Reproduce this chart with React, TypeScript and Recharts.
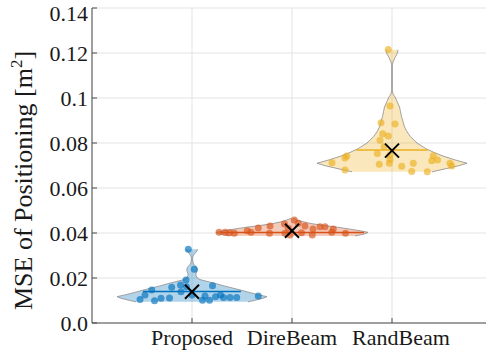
import React from 'react';
import {
  ComposedChart,
  Area,
  Scatter,
  XAxis,
  YAxis,
  CartesianGrid,
  ReferenceLine,
} from 'recharts';

const categories = ['Proposed', 'DireBeam', 'RandBeam'];
const colors = ['#0072BD', '#D95319', '#EDB120'];

const yTicks = [0, 0.02, 0.04, 0.06, 0.08, 0.1, 0.12, 0.14];
const yTickLabels = ['0.0', '0.02', '0.04', '0.06', '0.08', '0.1', '0.12', '0.14'];
const xTicks = [1, 2, 3];

// violin outlines: MSE level and half width (category units)
const proposedLevels = [0.0094, 0.0102, 0.011, 0.0117, 0.0125, 0.0135, 0.0145, 0.0155, 0.0165, 0.0175, 0.0185, 0.0193, 0.02, 0.021, 0.022, 0.023, 0.024, 0.025, 0.026, 0.027, 0.0285, 0.0298, 0.031, 0.032, 0.0328];
const proposedHalfWidths = [0.56, 0.64, 0.71, 0.75, 0.67, 0.58, 0.5, 0.41, 0.32, 0.24, 0.15, 0.08, 0.055, 0.04, 0.04, 0.05, 0.052, 0.04, 0.02, 0.01, 0.006, 0.01, 0.03, 0.05, 0.055];

const direLevels = [0.0387, 0.0393, 0.0398, 0.0403, 0.041, 0.0418, 0.0426, 0.0434, 0.0442, 0.045, 0.0458, 0.0465];
const direHalfWidths = [0.63, 0.7, 0.74, 0.76, 0.68, 0.57, 0.45, 0.31, 0.19, 0.11, 0.05, 0.01];

const randLevels = [0.0672, 0.0685, 0.0698, 0.071, 0.0725, 0.0742, 0.0758, 0.0776, 0.08, 0.0828, 0.085, 0.0872, 0.0895, 0.0917, 0.094, 0.096, 0.0985, 0.1005, 0.1018, 0.1035, 0.1145, 0.116, 0.118, 0.12, 0.1214];
const randHalfWidths = [0.4, 0.53, 0.66, 0.75, 0.63, 0.51, 0.42, 0.335, 0.25, 0.185, 0.15, 0.125, 0.11, 0.095, 0.085, 0.075, 0.05, 0.03, 0.01, 0.003, 0.003, 0.01, 0.03, 0.055, 0.06];

// individual runs: horizontal jitter and MSE
const proposedJitter = [-0.037, 0.023, -0.06, -0.115, -0.203, -0.403, -0.47, -0.52, -0.375, -0.31, -0.225, -0.11, 0, 0.205, 0.105, 0.175, 0.235, 0.285, 0.315, 0.38, 0.447, 0.663, -0.055, 0.13];
const proposedMse = [0.0328, 0.0239, 0.0191, 0.0169, 0.0159, 0.0147, 0.0124, 0.0105, 0.0099, 0.011, 0.0111, 0.0139, 0.0124, 0.0166, 0.0101, 0.0101, 0.0117, 0.0124, 0.0113, 0.0113, 0.0113, 0.012, 0.0161, 0.012];

const direJitter = [-0.73, -0.67, -0.625, -0.577, -0.447, -0.41, -0.337, -0.22, -0.225, -0.075, 0.023, -0.037, -0.02, 0.063, 0.095, 0.13, 0.203, 0.21, 0.28, 0.33, 0.413, 0.397, 0.535, -0.07];
const direMse = [0.0403, 0.0403, 0.0401, 0.0399, 0.041, 0.0403, 0.0422, 0.0431, 0.0399, 0.044, 0.0458, 0.0421, 0.0391, 0.0443, 0.0401, 0.0431, 0.0391, 0.0418, 0.0428, 0.0428, 0.0418, 0.0403, 0.0399, 0.0399];

const randJitter = [-0.037, -0.02, -0.11, 0.03, -0.093, -0.037, -0.12, -0.08, -0.453, -0.47, -0.147, -0.02, -0.02, -0.027, -0.127, 0.097, 0.213, 0.197, 0.353, 0.413, 0.455, 0.397, 0.58, 0.597, -0.47, -0.6];
const randMse = [0.1216, 0.0964, 0.089, 0.0884, 0.0841, 0.0831, 0.0812, 0.0783, 0.0742, 0.0733, 0.0753, 0.0747, 0.0727, 0.071, 0.0706, 0.0697, 0.071, 0.0673, 0.0672, 0.0743, 0.0724, 0.0721, 0.071, 0.0698, 0.068, 0.0712];

const medians = [0.014, 0.0402, 0.0769];
const medianHalfWidths = [0.49, 0.72, 0.36];
const means = [0.0139, 0.041, 0.0766];

const outlines = [
  [proposedLevels, proposedHalfWidths],
  [direLevels, direHalfWidths],
  [randLevels, randHalfWidths],
];
const runs = [
  [proposedJitter, proposedMse],
  [direJitter, direMse],
  [randJitter, randMse],
];

// one small table per violin: level -> [left edge, right edge]
const violinData = outlines.map(([levels, widths], i) =>
  levels.map((v, k) => ({ v, band: [i + 1 - widths[k], i + 1 + widths[k]] }))
);

const runData = runs.map(([jit, mse], i) => mse.map((v, k) => ({ x: i + 1 + jit[k], v })));
const meanData = means.map((v, i) => ({ x: i + 1, v }));

const FONT = '"Liberation Serif", "Times New Roman", serif';
const AXIS = '#4d4d4d';
const INK = '#1a1a1a';

const Cross = (props: any) => {
  const { cx, cy } = props;
  const s = 7;
  return (
    <g stroke="#000" strokeWidth={2}>
      <line x1={cx - s} y1={cy - s} x2={cx + s} y2={cy + s} />
      <line x1={cx - s} y1={cy + s} x2={cx + s} y2={cy - s} />
    </g>
  );
};

// category labels; the last one sits a little to the right in the original figure
const CategoryTick = (props: any) => {
  const { x, y, payload } = props;
  const shift = payload.value === 3 ? 9 : 0;
  return (
    <text
      x={x + shift}
      y={y}
      dy="0.71em"
      textAnchor="middle"
      fontFamily={FONT}
      fontSize={22}
      fill={INK}
    >
      {categories[payload.value - 1]}
    </text>
  );
};

const YLabel = (props: any) => {
  const vb = props.viewBox || { x: 0, y: 8, width: 92, height: 315 };
  const cx = 32;
  const cy = vb.y + vb.height / 2 + 15;
  return (
    <text
      x={cx}
      y={cy}
      transform={`rotate(-90, ${cx}, ${cy})`}
      textAnchor="middle"
      fontFamily={FONT}
      fontSize={26}
      fill={INK}
    >
      MSE of Positioning [m
      <tspan dy={-10} fontSize={17}>2</tspan>
      <tspan dy={10}>]</tspan>
    </text>
  );
};

export default function App() {
  return (
    <div
      style={{
        position: 'absolute',
        left: 0,
        top: 0,
        width: 486,
        height: 360,
        overflow: 'hidden',
        background: '#fff',
      }}
    >
      <ComposedChart
        width={500}
        height={360}
        layout="vertical"
        margin={{ top: 8, right: 8, bottom: 0, left: 0 }}
      >
        <CartesianGrid stroke="#e3e3e3" strokeWidth={1} />
        <XAxis
          type="number"
          dataKey="x"
          domain={[0, 4]}
          ticks={xTicks}
          height={37}
          tickSize={-5}
          tickMargin={11}
          axisLine={{ stroke: AXIS }}
          tickLine={{ stroke: AXIS }}
          tick={<CategoryTick />}
          allowDataOverflow
        />
        <XAxis
          xAxisId="top"
          orientation="top"
          type="number"
          domain={[0, 4]}
          ticks={xTicks}
          height={0}
          tick={false}
          tickSize={-5}
          axisLine={{ stroke: AXIS }}
          tickLine={{ stroke: AXIS }}
          allowDataOverflow
        />
        <YAxis
          type="number"
          dataKey="v"
          domain={[0, 0.14]}
          ticks={yTicks}
          reversed
          width={92}
          tickSize={-5}
          tickMargin={9}
          tickFormatter={(t: number) => yTickLabels[yTicks.indexOf(t)] ?? String(t)}
          axisLine={{ stroke: AXIS }}
          tickLine={{ stroke: AXIS }}
          tick={{ fontFamily: FONT, fontSize: 22, fill: INK }}
          label={<YLabel />}
          allowDataOverflow
        />
        {categories.map((c, i) => (
          <Area
            key={c}
            data={violinData[i]}
            dataKey="band"
            type="linear"
            fill={colors[i]}
            fillOpacity={0.3}
            stroke="#8c8c8c"
            strokeWidth={0.8}
            dot={false}
            activeDot={false}
            isAnimationActive={false}
          />
        ))}
        {categories.map((c, i) => (
          <ReferenceLine
            key={'med' + c}
            segment={[
              { x: i + 1 - medianHalfWidths[i], y: medians[i] },
              { x: i + 1 + medianHalfWidths[i], y: medians[i] },
            ]}
            stroke={colors[i]}
            strokeWidth={1.5}
          />
        ))}
        {categories.map((c, i) => (
          <Scatter
            key={'run' + c}
            data={runData[i]}
            isAnimationActive={false}
            shape={(p: any) => (
              <circle cx={p.cx} cy={p.cy} r={3.5} fill={colors[i]} fillOpacity={0.65} />
            )}
          />
        ))}
        <Scatter data={meanData} isAnimationActive={false} shape={<Cross />} />
      </ComposedChart>
    </div>
  );
}
